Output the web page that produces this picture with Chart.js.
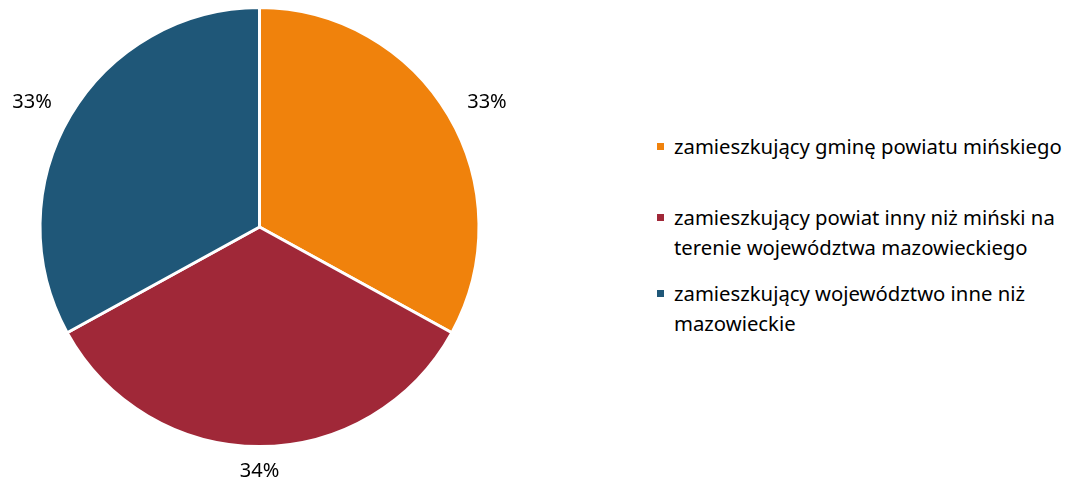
<!DOCTYPE html>
<html>
<head>
<meta charset="utf-8">
<script src="https://cdn.jsdelivr.net/npm/chart.js@4"></script>
<style>
  body { margin: 0; background: #fff; font-family: "Noto Sans", sans-serif; }
  #wrap { position: relative; width: 1082px; height: 485px; }
  #pieBox { position: absolute; left: 0; top: 0; width: 519px; height: 485px; }
  #legend { position: absolute; left: 657px; top: 0; color: #000; font-size: 20.3px; }
  .item { position: absolute; left: 0; width: 430px; line-height: 30px; white-space: nowrap; }
  .sw { position: absolute; left: 0; top: 12px; width: 7px; height: 7px; }
  .txt { position: absolute; left: 17px; top: 0; }
</style>
</head>
<body>
<div id="wrap">
  <div id="pieBox"><canvas id="pie"></canvas></div>
  <div id="legend"></div>
</div>
<script>
const categories = [
    ['zamieszkujący gminę powiatu mińskiego'],
    ['zamieszkujący powiat inny niż miński na', 'terenie województwa mazowieckiego'],
    ['zamieszkujący województwo inne niż', 'mazowieckie']
];
const shares = [33, 34, 33];
const percentLabels = ['33%', '34%', '33%'];
const colors = ['#F0820C', '#A02838', '#1F5778'];

// legend on the right, built from the same arrays
const legendTops = [131, 202, 278];
const legend = document.getElementById('legend');
categories.forEach((lines, i) => {
    const item = document.createElement('div');
    item.className = 'item';
    item.style.top = legendTops[i] + 'px';
    item.innerHTML = '<span class="sw" style="background:' + colors[i] + '"></span>' +
        '<span class="txt">' + lines.join('<br>') + '</span>';
    legend.appendChild(item);
});

// percentage labels outside each slice
const outsideLabels = {
    id: 'outsideLabels',
    afterDatasetsDraw(chart) {
        const ctx = chart.ctx;
        const meta = chart.getDatasetMeta(0);
        ctx.save();
        ctx.font = '20px "Noto Sans", sans-serif';
        ctx.fillStyle = '#000';
        ctx.textAlign = 'center';
        ctx.textBaseline = 'middle';
        meta.data.forEach((arc, i) => {
            const mid = (arc.startAngle + arc.endAngle) / 2;
            const w = ctx.measureText(percentLabels[i]).width;
            const h = 14;
            const d = arc.outerRadius + 18;
            const x = arc.x + Math.cos(mid) * (d + w / 2 + 7);
            const y = arc.y + Math.sin(mid) * (d + h / 2);
            ctx.fillText(percentLabels[i], x, y);
        });
        ctx.restore();
    }
};

new Chart(document.getElementById('pie'), {
    type: 'pie',
    data: {
        labels: categories.map(l => l.join(' ')),
        datasets: [{
            data: shares,
            backgroundColor: colors,
            borderColor: '#fff',
            borderWidth: 3
        }]
    },
    options: {
        responsive: true,
        maintainAspectRatio: false,
        animation: false,
        layout: { padding: { top: 6, bottom: 37, left: 0, right: 0 } },
        plugins: {
            legend: { display: false },
            tooltip: { enabled: false }
        }
    },
    plugins: [outsideLabels]
});
</script>
</body>
</html>
